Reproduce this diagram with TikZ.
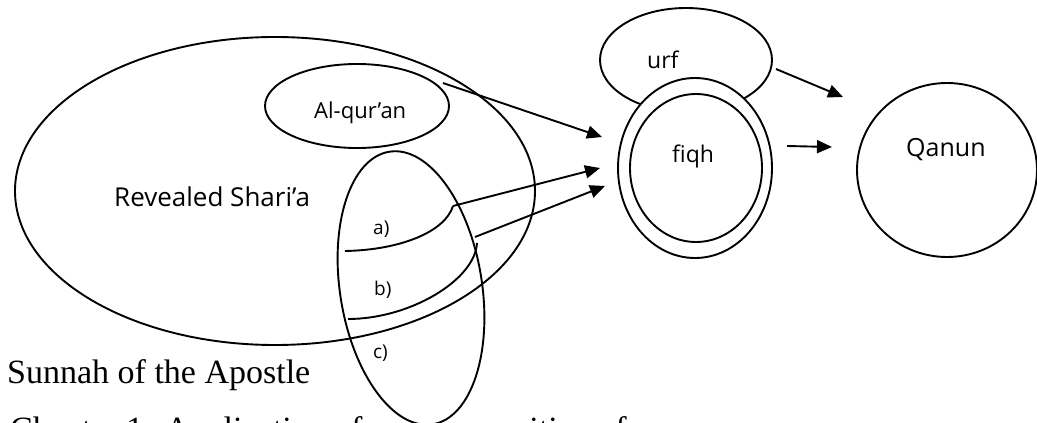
\documentclass[tikz,border=0pt]{standalone}
\usepackage{fontspec}
\setmainfont{Liberation Serif}
\newfontfamily\labelfont{Open Sans}
\usetikzlibrary{arrows.meta,shapes.geometric}

\begin{document}
\begin{tikzpicture}[
  x=1pt, y=-1pt,
  oval/.style={draw, ellipse, line width=1.9pt, inner sep=0pt},
  lbl/.style={anchor=base west, inner sep=0pt, font=\labelfont\fontsize{23}{27}\selectfont},
  small/.style={anchor=base west, inner sep=0pt, font=\labelfont\fontsize{19}{23}\selectfont},
  body/.style={anchor=base west, inner sep=0pt, font=\fontsize{34}{40}\selectfont},
  curve/.style={line width=1.9pt},
  arrow/.style={-{Triangle[length=15pt,width=13pt]}, line width=1.9pt}
]
\useasboundingbox (0,0) rectangle (1037,423);
\node[oval, minimum width=520pt, minimum height=308pt] (shariah) at (275,191) {};
\node[oval, minimum width=184pt, minimum height=84pt] (quran) at (357,106) {};
\node[oval, minimum width=142pt, minimum height=276pt, rotate=9] (sunnah) at (411,288) {};
\node[lbl, font=\labelfont\fontsize{26}{30}\selectfont] (shariahlbl) at (114,206) {Revealed Shari’a};
\node[lbl, font=\labelfont\fontsize{22}{26}\selectfont] (quranlbl) at (314,118) {Al-qur’an};
\node[small] (alabel) at (373,234) {a)};
\node[small] (blabel) at (374,295) {b)};
\node[small] (clabel) at (373,358) {c)};
\coordinate (astart) at (345,251);
\coordinate (aend) at (453,206);
\coordinate (bstart) at (348,319);
\coordinate (bend) at (477,243);
\draw[curve] (astart) .. controls (400,250) and (445,232) .. (aend);
\draw[curve] (bstart) .. controls (410,319) and (475,280) .. (bend);
\node[oval, minimum width=172pt, minimum height=104pt] (urf) at (686,60) {};
\node[lbl] (urflbl) at (647,68) {urf};
\node[oval, fill=white, minimum width=154pt, minimum height=180pt] (fiqh) at (695,168) {};
\node[oval, minimum width=132pt, minimum height=148pt] (fiqhin) at (696,168) {};
\node[lbl] (fiqhlbl) at (672,162) {fiqh};
\node[oval, minimum width=180pt, minimum height=174pt] (qanun) at (947,170) {};
\node[lbl, font=\labelfont\fontsize{25}{29}\selectfont] (qanunlbl) at (906,156) {Qanun};
\coordinate (quranout) at (443,83);
\coordinate (bout) at (475,237);
\coordinate (urfout) at (776,69);
\coordinate (fiqhout) at (787,146);
\coordinate (fiqhin1) at (602,137);
\coordinate (fiqhin2) at (600,168);
\coordinate (fiqhin3) at (605,186);
\coordinate (qanunin1) at (843,97);
\coordinate (qanunin2) at (832,147);
\draw[arrow] (quranout) -- (fiqhin1);
\draw[arrow] (aend) -- (fiqhin2);
\draw[arrow] (bout) -- (fiqhin3);
\draw[arrow] (urfout) -- (qanunin1);
\draw[arrow] (fiqhout) -- (qanunin2);
\node[body] (sunnahlbl) at (7,383) {Sunnah of the Apostle};
\node[body] (chapter) at (10,440) {Chapter 1};
\node[body] (application) at (165,440) {Application of};
\node[body] (positive) at (482,440) {positive of};
\end{tikzpicture}
\end{document}
